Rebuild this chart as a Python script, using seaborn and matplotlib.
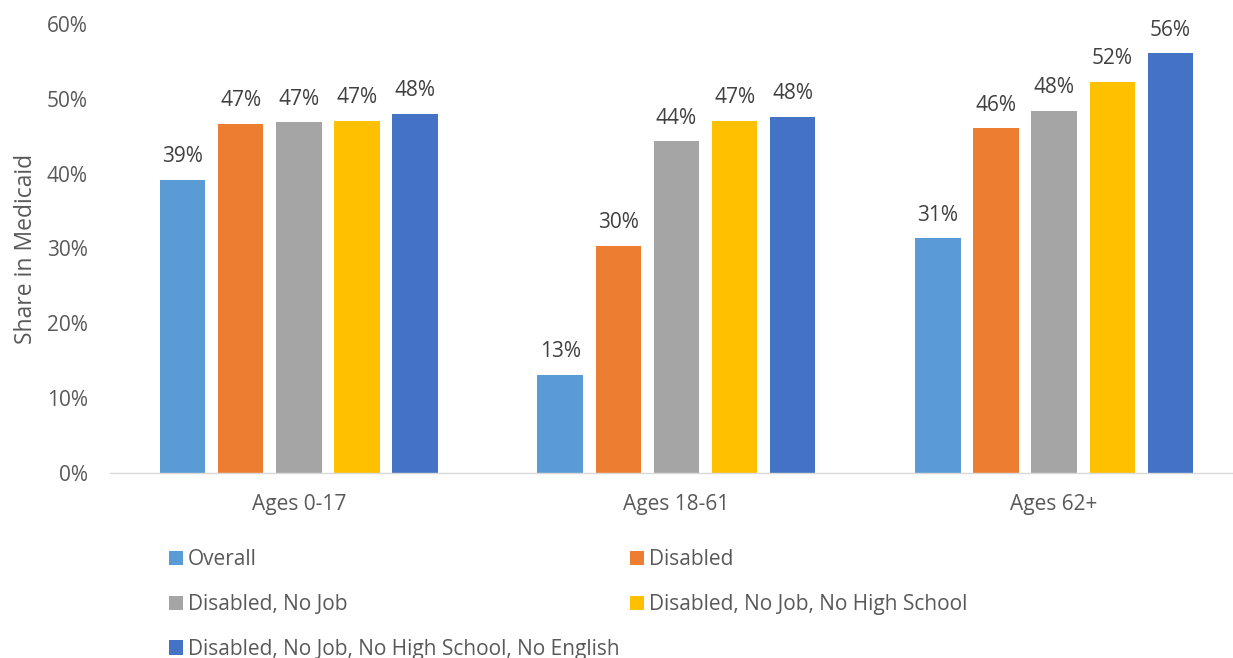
import matplotlib
matplotlib.use("Agg")
import matplotlib.pyplot as plt
import seaborn as sns
import pandas as pd
from matplotlib.ticker import PercentFormatter

# Share of people covered by Medicaid, by age group and characteristic
age_groups = ["Ages 0-17", "Ages 18-61", "Ages 62+"]
series = [
    "Overall",
    "Disabled",
    "Disabled, No Job",
    "Disabled, No Job, No High School",
    "Disabled, No Job, No High School, No English",
]
overall = [0.392, 0.131, 0.314]
disabled = [0.467, 0.304, 0.461]
disabled_no_job = [0.469, 0.443, 0.484]
disabled_no_job_no_hs = [0.471, 0.471, 0.523]
disabled_no_job_no_hs_no_eng = [0.480, 0.476, 0.561]
colors = ["#5B9BD5", "#ED7D31", "#A5A5A5", "#FFC000", "#4472C4"]

values = [overall, disabled, disabled_no_job, disabled_no_job_no_hs,
          disabled_no_job_no_hs_no_eng]
rows = []
for name, vals in zip(series, values):
    for grp, v in zip(age_groups, vals):
        rows.append({"Age group": grp, "Group": name, "Share": v})
df = pd.DataFrame(rows)

sns.set_theme(style="white")
plt.rcParams["font.family"] = ["Open Sans", "DejaVu Sans"]

text_grey = "#595959"
label_grey = "#404040"

fig = plt.figure(figsize=(12.33, 6.58), dpi=100)
ax = fig.add_axes([0.0892, 0.2812, 0.9189, 0.6823])

sns.barplot(data=df, x="Age group", y="Share", hue="Group",
            order=age_groups, hue_order=series, palette=colors,
            width=0.77, gap=0.22, saturation=1, edgecolor="none",
            ax=ax, errorbar=None)

ax.set_ylim(0, 0.6)
ax.set_xlim(-0.5, 2.5)
ax.yaxis.set_major_formatter(PercentFormatter(1.0, decimals=0))
ax.set_yticks([0, 0.1, 0.2, 0.3, 0.4, 0.5, 0.6])
ax.tick_params(axis="y", length=0, pad=16, labelsize=15, labelcolor=text_grey)

# category boundaries carry the tick marks, labels sit at the centres
ax.set_xticks([-0.5, 0.5, 1.5, 2.5], minor=False)
ax.set_xticklabels([])
ax.set_xticks([0, 1, 2], minor=True)
ax.set_xticklabels(age_groups, minor=True)
ax.tick_params(axis="x", which="major", direction="in", length=5,
               width=1, color="#D9D9D9")
ax.tick_params(axis="x", which="minor", length=0, pad=15, labelsize=15,
               labelcolor=text_grey)

ax.set_xlabel("")
ax.set_ylabel("Share in Medicaid", fontsize=16.5, color=text_grey, labelpad=6.5)

for side in ["top", "right", "left"]:
    ax.spines[side].set_visible(False)
ax.spines["bottom"].set_color("#D9D9D9")
ax.spines["bottom"].set_linewidth(1)

for container in ax.containers:
    ax.bar_label(container, labels=[f"{v * 100:.0f}%" for v in container.datavalues],
                 padding=9, fontsize=15, color=label_grey)

handles, labels = ax.get_legend_handles_labels()
ax.get_legend().remove()
order = [0, 2, 4, 1, 3]
fig.legend([handles[i] for i in order], [labels[i] for i in order],
           loc="upper left", bbox_to_anchor=(0.137, 0.1657), ncol=2,
           frameon=False, fontsize=15, labelcolor=text_grey,
           handlelength=0.67, handleheight=0.67, handletextpad=0.25,
           labelspacing=1.15, columnspacing=0.5, borderpad=0, borderaxespad=0)

fig.savefig("out.png", dpi=100)
